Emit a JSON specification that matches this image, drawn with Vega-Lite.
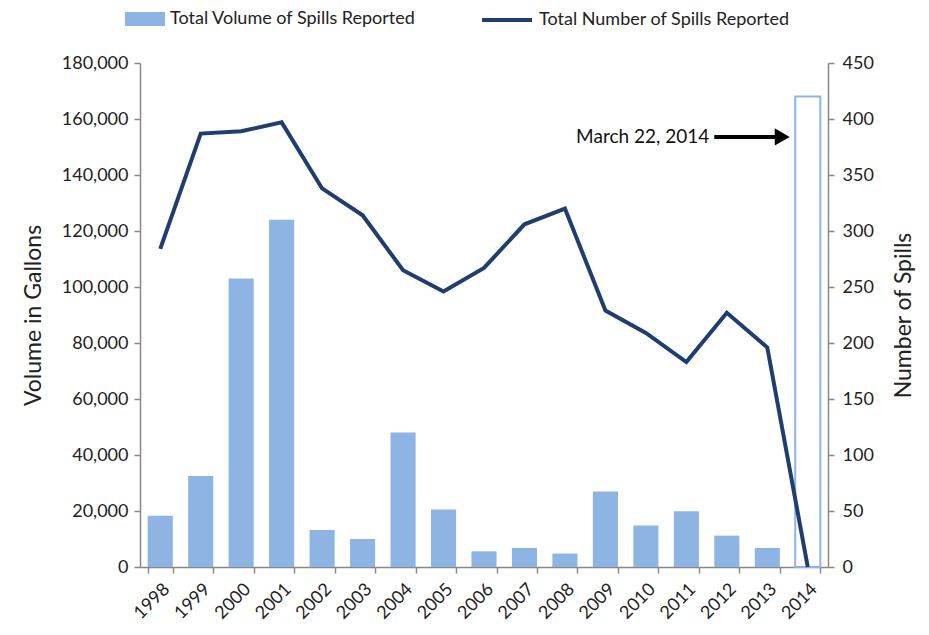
{
  "$schema": "https://vega.github.io/schema/vega-lite/v6.json",
  "width": 688,
  "height": 504,
  "autosize": {"type": "none"},
  "padding": {"left": 140, "top": 63, "right": 101, "bottom": 68},
  "background": "white",
  "config": {
    "font": "Lato",
    "view": {"stroke": null},
    "axis": {
      "grid": false,
      "domainColor": "#888888",
      "tickColor": "#888888",
      "domainWidth": 1.5,
      "tickWidth": 1.5,
      "tickSize": 6,
      "labelColor": "#222222",
      "titleColor": "#222222",
      "labelFontSize": 18,
      "titleFontSize": 23,
      "titleFontWeight": "normal"
    },
    "axisY": {"format": ",.0f"},
    "legend": {
      "labelFontSize": 18,
      "labelColor": "#222222",
      "labelLimit": 400,
      "padding": 0
    }
  },
  "data": {
    "values": [
      {"Year": "1998", "Volume": 18300, "Spills": 284},
      {"Year": "1999", "Volume": 32500, "Spills": 387},
      {"Year": "2000", "Volume": 103000, "Spills": 389},
      {"Year": "2001", "Volume": 124000, "Spills": 397},
      {"Year": "2002", "Volume": 13200, "Spills": 338},
      {"Year": "2003", "Volume": 10000, "Spills": 314},
      {"Year": "2004", "Volume": 48000, "Spills": 265},
      {"Year": "2005", "Volume": 20500, "Spills": 246},
      {"Year": "2006", "Volume": 5600, "Spills": 267},
      {"Year": "2007", "Volume": 6800, "Spills": 306},
      {"Year": "2008", "Volume": 4800, "Spills": 320},
      {"Year": "2009", "Volume": 27000, "Spills": 229},
      {"Year": "2010", "Volume": 14800, "Spills": 209},
      {"Year": "2011", "Volume": 19900, "Spills": 183},
      {"Year": "2012", "Volume": 11200, "Spills": 227},
      {"Year": "2013", "Volume": 6800, "Spills": 196},
      {"Year": "2014", "Volume": 168000, "Spills": 0}
    ]
  },
  "layer": [
    {
      "layer": [
        {
          "mark": {"type": "bar", "strokeWidth": 2},
          "encoding": {
            "x": {
              "field": "Year",
              "type": "nominal",
              "sort": null,
              "scale": {"paddingInner": 0.38, "paddingOuter": 0.19},
              "axis": {
                "title": null,
                "labelAngle": -45,
                "tickBand": "extent",
                "labelPadding": 7,
                "labelFontSize": 18
              }
            },
            "y": {
              "field": "Volume",
              "type": "quantitative",
              "scale": {"domain": [0, 180000], "nice": false},
              "axis": {
                "title": "Volume in Gallons",
                "values": [0, 20000, 40000, 60000, 80000, 100000, 120000, 140000, 160000, 180000],
                "format": ",.0f",
                "labelPadding": 6,
                "titlePadding": 16
              }
            },
            "fill": {
              "datum": "Total Volume of Spills Reported",
              "scale": {"range": ["#8DB4E2"]},
              "condition": {"test": "datum.Year === '2014'", "value": "white"},
              "legend": {
                "title": null,
                "orient": "none",
                "legendX": -5,
                "legendY": -54,
                "symbolType": "M-2,-0.7H2V0.7H-2Z",
                "symbolSize": 400,
                "symbolStrokeWidth": 0,
                "labelOffset": 15
              }
            },
            "stroke": {
              "condition": {"test": "datum.Year === '2014'", "value": "#8DB4E2"},
              "value": null
            }
          }
        },
        {
          "data": {"values": [{"Year": "2012", "Year2": "2014", "Volume": 153600, "label": "March 22, 2014"}]},
          "mark": {"type": "text", "align": "right", "baseline": "middle", "dx": -5, "fontSize": 19, "color": "#111111"},
          "encoding": {
            "x": {"field": "Year", "type": "nominal", "bandPosition": 0},
            "y": {"field": "Volume", "type": "quantitative"},
            "text": {"field": "label"}
          }
        },
        {
          "data": {"values": [{"Year": "2012", "Year2": "2014", "Volume": 153600, "label": "March 22, 2014"}]},
          "mark": {"type": "rule", "strokeWidth": 4, "color": "#000000", "x2Offset": -12},
          "encoding": {
            "x": {"field": "Year", "type": "nominal", "bandPosition": 0},
            "x2": {"field": "Year2", "bandPosition": 0},
            "y": {"field": "Volume", "type": "quantitative"}
          }
        },
        {
          "data": {"values": [{"Year": "2012", "Year2": "2014", "Volume": 153600, "label": "March 22, 2014"}]},
          "mark": {"type": "point", "shape": "triangle-right", "filled": true, "color": "#000000", "size": 300, "opacity": 1, "xOffset": -13},
          "encoding": {
            "x": {"field": "Year2", "type": "nominal", "bandPosition": 0},
            "y": {"field": "Volume", "type": "quantitative"}
          }
        }
      ]
    },
    {
      "mark": {"type": "line", "strokeWidth": 4, "strokeJoin": "miter"},
      "encoding": {
        "x": {"field": "Year", "type": "nominal", "sort": null},
        "y": {
          "field": "Spills",
          "type": "quantitative",
          "scale": {"domain": [0, 450], "nice": false},
          "axis": {
            "orient": "right",
            "title": "Number of Spills",
            "titleAngle": -90,
            "values": [0, 50, 100, 150, 200, 250, 300, 350, 400, 450],
            "format": ",.0f",
            "labelPadding": 8,
            "titlePadding": 42
          }
        },
        "stroke": {
          "datum": "Total Number of Spills Reported",
          "scale": {"range": ["#1F3D6D"]},
          "legend": {
            "title": null,
            "orient": "none",
            "legendX": 340,
            "legendY": -70,
            "symbolType": "stroke",
            "symbolSize": 2500,
            "symbolStrokeWidth": 4,
            "labelOffset": 5
          }
        }
      }
    }
  ],
  "resolve": {"scale": {"y": "independent"}}
}
